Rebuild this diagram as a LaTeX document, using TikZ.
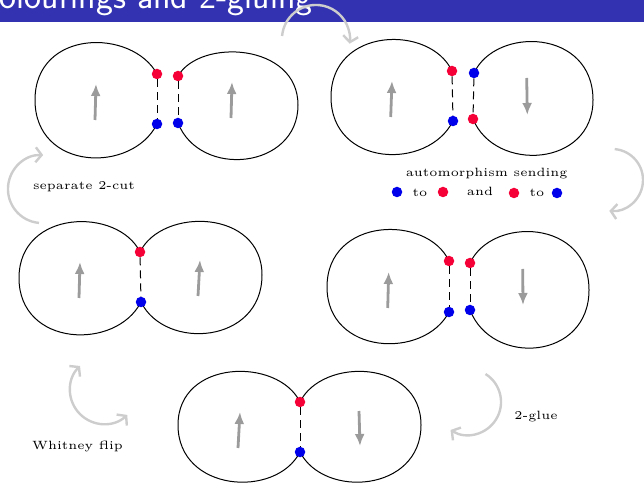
\documentclass[tikz,border=0pt]{standalone}
\usepackage{tikz}
\usetikzlibrary{arrows.meta, positioning, calc}

\definecolor{titleblue}{RGB}{51,51,178}
\definecolor{dotred}{RGB}{245,0,55}
\definecolor{dotblue}{RGB}{0,0,235}
\definecolor{tipgray}{RGB}{155,155,155}
\definecolor{movegray}{RGB}{205,205,205}

\tikzset{
  blob/.style={line width=1pt},
  cutline/.style={line width=1pt, dash pattern=on 8pt off 5pt},
  reddot/.style={circle, fill=dotred, inner sep=0pt, minimum size=10.5pt},
  bluedot/.style={circle, fill=dotblue, inner sep=0pt, minimum size=10.5pt},
  orient/.style={draw=tipgray, line width=2.8pt, -{Latex[length=12pt, width=10pt]}},
  movearc/.style={draw=movegray, line width=2.4pt, -{Straight Barb[length=6pt, width=15pt]}},
  lbl/.style={font=\tiny, scale=2.4, inner sep=0pt}
}

\begin{document}
\begin{tikzpicture}[x=1pt, y=1pt]
    \useasboundingbox (0,0) rectangle (644,484);
    \clip (0,0) rectangle (644,484);

    % Title bar of the slide
    \fill[titleblue] (0,462) rectangle (644,484);
    \node[anchor=base west, text=white, inner sep=0pt,
          font=\sffamily\fontsize{36}{40}\selectfont] (title) at (-22,475) {Colourings and 2-gluing};

    % Points where the blobs meet
    \coordinate (pa1) at (157,410);  \coordinate (pa2) at (157,360);
    \coordinate (pa3) at (178,408);  \coordinate (pa4) at (178,361);
    \coordinate (pb1) at (452,413);  \coordinate (pb2) at (453,363);
    \coordinate (pb3) at (474,411);  \coordinate (pb4) at (473,365);
    \coordinate (pc1) at (140,232);  \coordinate (pc2) at (141,182);
    \coordinate (pd1) at (449,223);  \coordinate (pd2) at (449,172);
    \coordinate (pd3) at (470,221);  \coordinate (pd4) at (470,174);
    \coordinate (pe1) at (300,82);   \coordinate (pe2) at (300,32);

    % Top left: the two parts after cutting
    \draw[blob] (pa1) .. controls (132,456) and (35,455) .. (35,384)
        .. controls (35,313) and (132,310) .. (pa2);
    \draw[blob] (pa3) .. controls (200,446) and (298,441) .. (298,379)
        .. controls (298,315) and (200,305) .. (pa4);
    \draw[orient] (95,364) -- (96,400);
    \draw[orient] (231,366) -- (232,402);

    % Top right: right part turned over
    \draw[blob] (pb1) .. controls (430,460) and (331,457) .. (331,387)
        .. controls (331,317) and (428,313) .. (pb2);
    \draw[blob] (pb3) .. controls (496,458) and (593,455) .. (593,384)
        .. controls (593,317) and (495,311) .. (pb4);
    \draw[orient] (390.7,367) -- (392,403);
    \draw[orient] (526.7,406) -- (527.3,369);

    % Middle left: the glued graph
    \draw[blob] (pc1) .. controls (118,277) and (19,275) .. (19,206)
        .. controls (19,137) and (116,133) .. (pc2);
    \draw[blob] (pc1) .. controls (162,277) and (262,275) .. (262,209)
        .. controls (262,140) and (165,133) .. (pc2);
    \draw[orient] (79,186) -- (80,222);
    \draw[orient] (198,188) -- (200,224);

    % Middle right: colours swapped again
    \draw[blob] (pd1) .. controls (427,270) and (327,267) .. (327,197)
        .. controls (327,129) and (424,124) .. (pd2);
    \draw[blob] (pd3) .. controls (492,268) and (589,265) .. (589,194)
        .. controls (589,124) and (492,117) .. (pd4);
    \draw[orient] (387.7,176) -- (388.7,212);
    \draw[orient] (522.7,215) -- (523,179);

    % Bottom: glued back after the flip
    \draw[blob] (pe1) .. controls (278,127) and (178,125) .. (178,59)
        .. controls (178,-8) and (276,-15) .. (pe2);
    \draw[blob] (pe1) .. controls (322,127) and (421,125) .. (421,59)
        .. controls (421,-8) and (324,-15) .. (pe2);
    \draw[orient] (238,36) -- (240,72);
    \draw[orient] (359,73) -- (360,38);

    % Coloured end points of the 2-cuts
    \node[reddot]  (a1) at (pa1) {};  \node[bluedot] (a2) at (pa2) {};
    \node[reddot]  (a3) at (pa3) {};  \node[bluedot] (a4) at (pa4) {};
    \node[reddot]  (b1) at (pb1) {};  \node[bluedot] (b2) at (pb2) {};
    \node[bluedot] (b3) at (pb3) {};  \node[reddot]  (b4) at (pb4) {};
    \node[reddot]  (c1) at (pc1) {};  \node[bluedot] (c2) at (pc2) {};
    \node[reddot]  (d1) at (pd1) {};  \node[bluedot] (d2) at (pd2) {};
    \node[reddot]  (d3) at (pd3) {};  \node[bluedot] (d4) at (pd4) {};
    \node[reddot]  (e1) at (pe1) {};  \node[bluedot] (e2) at (pe2) {};

    % Dashed virtual edges
    \draw[cutline] (a1) -- (a2);
    \draw[cutline] (a3) -- (a4);
    \draw[cutline] (b1) -- (b2);
    \draw[cutline] (b3) -- (b4);
    \draw[cutline] (c1) -- (c2);
    \draw[cutline] (d1) -- (d2);
    \draw[cutline] (d3) -- (d4);
    \draw[cutline] (e1) -- (e2);

    % Moves between the pictures
    \draw[movearc] (282.1,448) arc[start angle=175, end angle=-8, radius=34];
    \draw[movearc] (39,261.1) arc[start angle=265, end angle=88, radius=34];
    \draw[movearc] (614.7,334.9) arc[start angle=85, end angle=-95, radius=31];
    \draw[movearc] (485.5,110) arc[start angle=58, end angle=-122, radius=33];
    \draw[movearc, {Straight Barb[length=6pt, width=15pt]}-{Straight Barb[length=6pt, width=15pt]}]
        (80,118) arc[start angle=135, end angle=313, radius=34];

    % Labels of the moves
    \node[lbl] (cut) at (84,297) {separate 2-cut};
    \node[lbl] (auto) at (486.7,310) {automorphism sending};
    \node[bluedot] (k1) at (397,292) {};
    \node[lbl] (k2) at (420,291) {to};
    \node[reddot] (k3) at (443,292) {};
    \node[lbl] (k4) at (480,293) {and};
    \node[reddot] (k5) at (514,291) {};
    \node[lbl] (k6) at (537,291) {to};
    \node[bluedot] (k7) at (557,291) {};
    \node[lbl] (glue) at (536,67) {2-glue};
    \node[lbl] (flip) at (77.5,38) {Whitney flip};
\end{tikzpicture}
\end{document}
